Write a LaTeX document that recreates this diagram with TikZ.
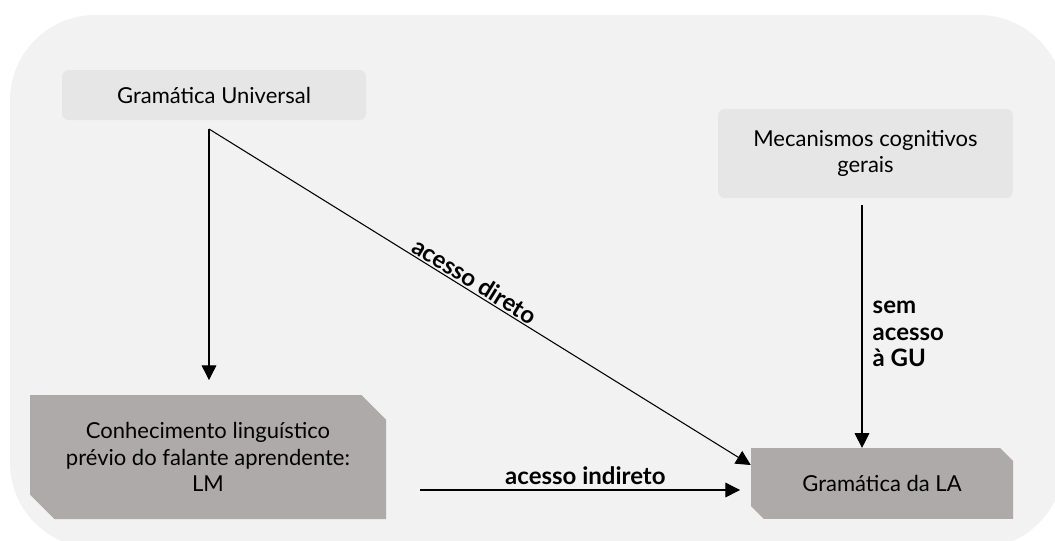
\documentclass[tikz,border=0pt]{standalone}
\usepackage{fontspec}
\setmainfont{Lato}
\usepackage{tikz}
\usetikzlibrary{arrows.meta,shapes.misc}
\definecolor{fundo}{HTML}{F2F2F2}
\definecolor{claro}{HTML}{E6E6E6}
\definecolor{escuro}{HTML}{AEAAAA}

\begin{document}
\begin{tikzpicture}[x=0.75pt,y=-0.75pt,
    caixa/.style={fill=claro,rounded corners=5pt,align=center,inner sep=0pt,font=\fontsize{16.5}{20}\selectfont},
    caixaesc/.style={fill=escuro,chamfered rectangle,chamfered rectangle corners={north east,south west},align=center,inner sep=0pt,font=\fontsize{16.5}{20}\selectfont},
    seta/.style={-{Triangle[width=11pt,length=11pt]},line width=0.8pt},
    rotulo/.style={font=\fontsize{18}{20}\selectfont\bfseries}]
    \useasboundingbox (0,0) rectangle (1055,540);
    \clip (0,0) rectangle (1055,540);
    \fill[fundo,rounded corners=64pt] (10,15) rectangle (1064,548);
    \node[caixa,minimum width=228pt,minimum height=37.5pt] (gu) at (214,95) {Gramática Universal};
    \node[caixa,minimum width=221pt,minimum height=67pt] (mec) at (865.5,153.5) {Mecanismos cognitivos\\gerais};
    \node[caixaesc,chamfered rectangle xsep=15pt,minimum width=267pt,minimum height=93pt] (lm) at (208,457) {Conhecimento linguístico\\prévio do falante aprendente:\\LM};
    \node[caixaesc,chamfered rectangle xsep=8pt,minimum width=196.5pt,minimum height=53pt] (la) at (882,483.5) {Gramática da LA};
    \coordinate (ramo) at (209,129);
    \coordinate (inicio) at (420,490);
    \draw[seta,shorten >=11pt] (ramo) -- (ramo |- lm.north);
    \draw[seta] (ramo) -- node[rotulo,pos=0.48,sloped,above=-2pt] {acesso direto} (la.west |- 0,465);
    \draw[seta,shorten >=8pt] (inicio) -- node[rotulo,above=0pt] {acesso indireto} (inicio -| la.west);
    \draw[seta,shorten <=5pt] (mec.south -| 862,0) -- (la.north -| 862,0);
    \node[rotulo,anchor=west,align=left] (sem) at (868,334) {sem\\acesso\\à GU};
\end{tikzpicture}
\end{document}
